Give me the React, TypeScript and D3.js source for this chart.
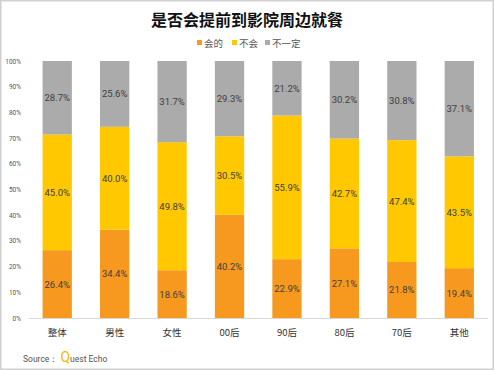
import React, { useRef, useEffect } from "react";
import * as d3 from "d3";

const categories = ["整体", "男性", "女性", "00后", "90后", "80后", "70后", "其他"];
const series = ["会的", "不会", "不一定"];
const willGo = [26.4, 34.4, 18.6, 40.2, 22.9, 27.1, 21.8, 19.4];
const wontGo = [45.0, 40.0, 49.8, 30.5, 55.9, 42.7, 47.4, 43.5];
const notSure = [28.7, 25.6, 31.7, 29.3, 21.2, 30.2, 30.8, 37.1];
const yTicks = [0, 10, 20, 30, 40, 50, 60, 70, 80, 90, 100];

const colors = ["#F7991F", "#FFC800", "#ABABAB"];

const App: React.FC = () => {
  const svgRef = useRef<SVGSVGElement>(null);

  useEffect(() => {
    if (!svgRef.current) return;
    const width = 494;
    const height = 370;
    const svg = d3.select(svgRef.current);
    svg.selectAll("*").remove();

    const cjk = "'Noto Sans CJK SC', sans-serif";
    const num = "Roboto, 'Noto Sans', sans-serif";

    // frame
    svg
      .append("rect")
      .attr("x", 0.5)
      .attr("y", 0.5)
      .attr("width", width - 1)
      .attr("height", height - 1)
      .attr("fill", "#fff")
      .attr("stroke", "#D0D0D0")
      .attr("stroke-width", 2);

    const x = d3.scaleBand().domain(categories).range([28.5, 488]).paddingInner(0.49).paddingOuter(0.245);
    const y = d3.scaleLinear().domain([0, 100]).range([318, 61]);

    // title
    svg
      .append("text")
      .attr("x", 247)
      .attr("y", 26)
      .attr("text-anchor", "middle")
      .style("font", `bold 16px ${cjk}`)
      .attr("fill", "#111")
      .text("是否会提前到影院周边就餐");

    // legend
    const legendX = [197, 232, 265];
    const lg = svg.append("g");
    series.forEach((s, i) => {
      lg.append("rect")
        .attr("x", legendX[i])
        .attr("y", 40)
        .attr("width", 5)
        .attr("height", 5)
        .attr("fill", colors[i]);
      lg.append("text")
        .attr("x", legendX[i] + 7)
        .attr("y", 47)
        .style("font", `9.5px ${cjk}`)
        .attr("fill", "#555")
        .text(s);
    });

    // stacked data
    const rows = categories.map((c, i) => ({
      cat: c,
      会的: willGo[i],
      不会: wontGo[i],
      不一定: notSure[i],
    }));
    const stacked = d3.stack<any>().keys(series)(rows);

    const g = svg.append("g");
    stacked.forEach((layer, li) => {
      g.selectAll(`rect.s${li}`)
        .data(layer)
        .join("rect")
        .attr("x", (d: any) => x(d.data.cat)!)
        .attr("width", x.bandwidth())
        .attr("y", (d: any) => y(Math.min(d[1], 100)))
        .attr("height", (d: any) => y(d[0]) - y(Math.min(d[1], 100)))
        .attr("fill", colors[li]);
      g.selectAll(`text.s${li}`)
        .data(layer)
        .join("text")
        .attr("x", (d: any) => x(d.data.cat)! + x.bandwidth() / 2)
        .attr("y", (d: any) => y((d[0] + Math.min(d[1], 100)) / 2) + 3.5)
        .attr("text-anchor", "middle")
        .style("font", `9.5px ${num}`)
        .attr("fill", "#404040")
        .text((d: any) => (d[1] - d[0]).toFixed(1) + "%");
    });

    // axis baseline
    svg
      .append("line")
      .attr("x1", 28.5)
      .attr("x2", 488)
      .attr("y1", y(0) + 0.5)
      .attr("y2", y(0) + 0.5)
      .attr("stroke", "#D9D9D9");

    // y tick labels
    svg
      .append("g")
      .selectAll("text")
      .data(yTicks)
      .join("text")
      .attr("x", 21)
      .attr("y", (d) => y(d) + 2.5)
      .attr("text-anchor", "end")
      .style("font", `6.5px ${num}`)
      .attr("fill", "#555")
      .text((d) => d + "%");

    // category labels
    svg
      .append("g")
      .selectAll("text")
      .data(categories)
      .join("text")
      .attr("x", (d) => x(d)! + x.bandwidth() / 2)
      .attr("y", 336)
      .attr("text-anchor", "middle")
      .style("font", `9.5px ${cjk}`)
      .attr("fill", "#333")
      .text((d) => d);

    // source
    const src = svg.append("text").attr("x", 23).attr("y", 362).style("font", `8.5px ${num}`).attr("fill", "#555");
    src.append("tspan").text("Source： ");
    src.append("tspan").attr("fill", "#F5B800").style("font-size", "14px").text("Q");
    src.append("tspan").text("uest Echo");

    return () => {
      svg.selectAll("*").remove();
    };
  }, []);

  return (
    <svg
      ref={svgRef}
      width={494}
      height={370}
      style={{ position: "absolute", left: 0, top: 0 }}
    ></svg>
  );
};

export default App;
